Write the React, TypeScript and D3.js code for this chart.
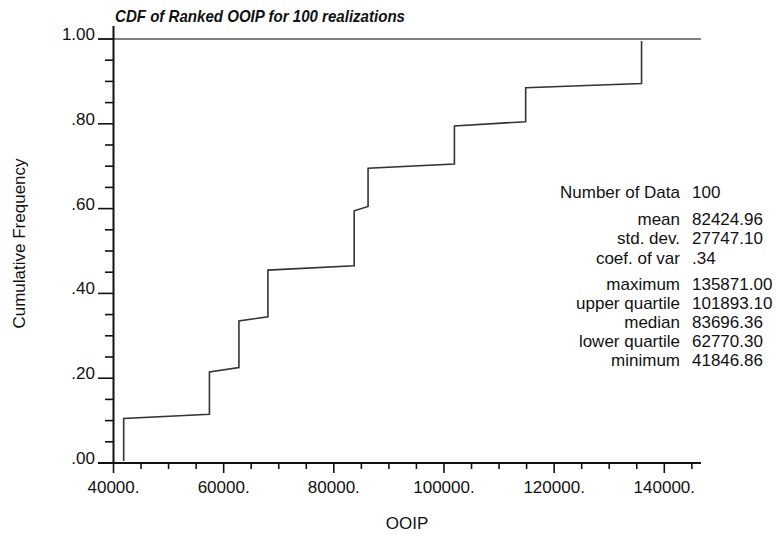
import React from "react";
import * as d3 from "d3";

// Distinct OOIP outcomes among the ranked realizations and how many realizations share each
const ooipValues = [41846.86, 57418, 62770.3, 68036, 83696.36, 86218, 101893.1, 114830, 135871];
const realizationCounts = [11, 11, 12, 12, 14, 10, 10, 9, 11];

const xMajorTicks = [40000, 60000, 80000, 100000, 120000, 140000];
const xTickLabels = ["40000.", "60000.", "80000.", "100000.", "120000.", "140000."];
const yMajorTicks = [0, 0.2, 0.4, 0.6, 0.8, 1.0];
const yTickLabels = [".00", ".20", ".40", ".60", ".80", "1.00"];

const statLabels = [
  "Number of Data",
  "mean",
  "std. dev.",
  "coef. of var",
  "maximum",
  "upper quartile",
  "median",
  "lower quartile",
  "minimum",
];
const statValues = [
  "100",
  "82424.96",
  "27747.10",
  ".34",
  "135871.00",
  "101893.10",
  "83696.36",
  "62770.30",
  "41846.86",
];
const statBaselines = [198, 225, 244, 264, 290, 309, 328, 347, 366];

const W = 776;
const H = 537;
const FONT = "'Liberation Sans', Arial, Helvetica, sans-serif";

export default function App() {
  const x = d3.scaleLinear().domain([40000, 140000]).range([113.5, 664.3]);
  const y = d3.scaleLinear().domain([0, 1]).range([463, 39]);

  // Expand to the sorted sample and assign plotting positions (i - 0.5) / n
  const sorted: number[] = [];
  ooipValues.forEach((v, k) => {
    for (let j = 0; j < realizationCounts[k]; j++) sorted.push(v);
  });
  sorted.sort((a, b) => a - b);
  const n = sorted.length;
  const cdf: [number, number][] = sorted.map((v, i) => [v, (i + 0.5) / n]);

  const line = d3
    .line<[number, number]>()
    .x((d) => x(d[0]))
    .y((d) => y(d[1]));

  const xMinor = d3.range(40000, 145001, 5000).filter((v) => v % 20000 !== 0);
  const yMinor = d3.range(0, 1.0001, 0.05).filter((v) => Math.round(v * 100) % 20 !== 0);

  const axisLeft = x(40000);
  const axisRight = 701;
  const axisBottom = y(0);
  const axisTop = 26;

  return (
    <svg
      width={W}
      height={H}
      style={{ position: "absolute", left: 0, top: 0, background: "#fff" }}
      fontFamily={FONT}
    >
      <rect width={W} height={H} fill="#fff" />

      <text
        x={115}
        y={22}
        fontSize={17}
        fontWeight="bold"
        fontStyle="italic"
        fill="#111"
        textLength={290}
        lengthAdjust="spacingAndGlyphs"
      >
        CDF of Ranked OOIP for 100 realizations
      </text>

      {/* reference line at cumulative frequency 1 */}
      <line x1={98} x2={axisRight} y1={y(1)} y2={y(1)} stroke="#555" strokeWidth={1.6} />

      {/* y axis */}
      <line x1={axisLeft} x2={axisLeft} y1={axisTop} y2={axisBottom + 1} stroke="#111" strokeWidth={2} />
      {yMajorTicks.map((t, i) => (
        <g key={`ym${i}`}>
          <line x1={98} x2={axisLeft} y1={y(t)} y2={y(t)} stroke="#111" strokeWidth={1.6} />
          <text x={95} y={y(t) + 1} fontSize={17} textAnchor="end" fill="#111">
            {yTickLabels[i]}
          </text>
        </g>
      ))}
      {yMinor.map((t, i) => (
        <line key={`yn${i}`} x1={105} x2={axisLeft} y1={y(t)} y2={y(t)} stroke="#111" strokeWidth={1.6} />
      ))}

      {/* x axis */}
      <line x1={98} x2={axisRight} y1={axisBottom} y2={axisBottom} stroke="#111" strokeWidth={2} />
      {xMajorTicks.map((t, i) => (
        <g key={`xm${i}`}>
          <line x1={x(t)} x2={x(t)} y1={axisBottom} y2={axisBottom + 10} stroke="#111" strokeWidth={1.6} />
          <text x={x(t)} y={493} fontSize={17} textAnchor="middle" fill="#111">
            {xTickLabels[i]}
          </text>
        </g>
      ))}
      {xMinor.map((t, i) => (
        <line key={`xn${i}`} x1={x(t)} x2={x(t)} y1={axisBottom} y2={axisBottom + 6} stroke="#111" strokeWidth={1.6} />
      ))}

      <text x={407} y={529} fontSize={17} textAnchor="middle" fill="#111">
        OOIP
      </text>
      <text
        transform={`translate(25, 243.5) rotate(-90)`}
        fontSize={17}
        textAnchor="middle"
        fill="#111"
      >
        Cumulative Frequency
      </text>

      {/* ranked CDF */}
      <path d={line(cdf) ?? ""} fill="none" stroke="#333" strokeWidth={1.6} />

      {/* summary statistics */}
      {statLabels.map((s, i) => (
        <g key={`st${i}`}>
          <text x={680} y={statBaselines[i]} fontSize={17} textAnchor="end" fill="#111">
            {s}
          </text>
          <text x={692} y={statBaselines[i]} fontSize={17} fill="#111">
            {statValues[i]}
          </text>
        </g>
      ))}
    </svg>
  );
}
